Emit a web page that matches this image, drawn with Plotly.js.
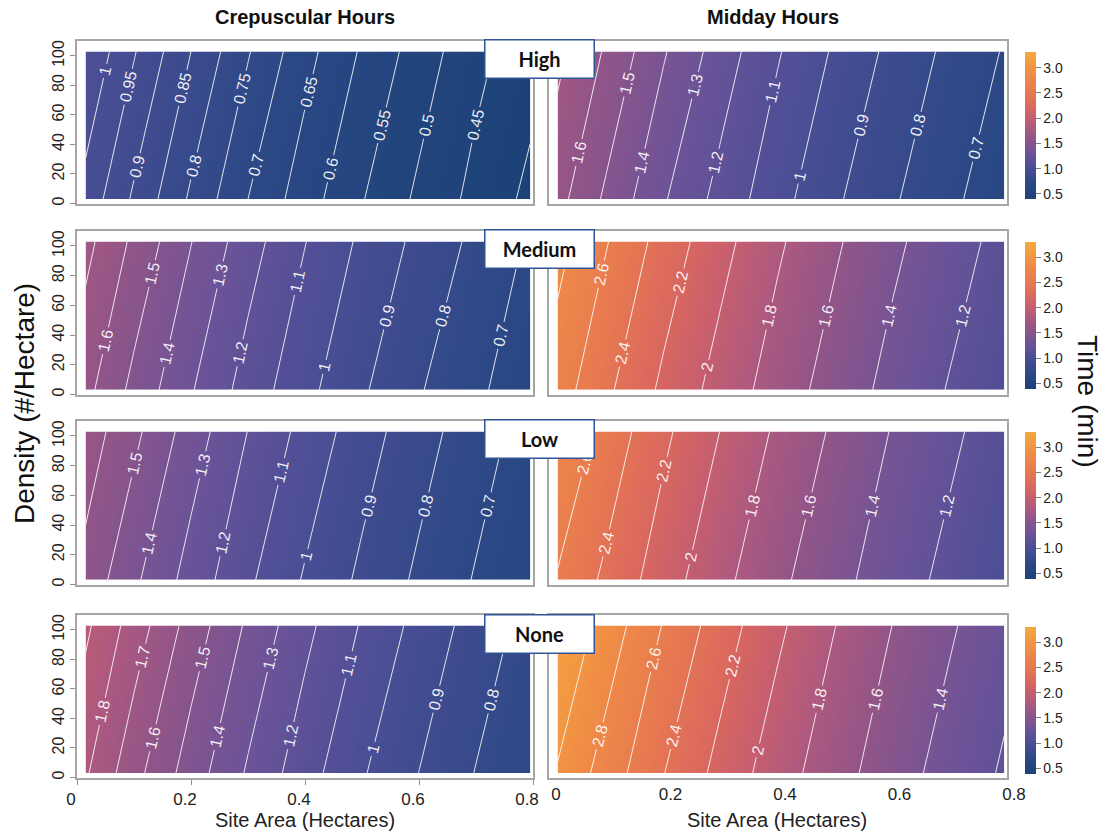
<!DOCTYPE html>
<html>
<head>
<meta charset="utf-8">
<script src="https://cdn.plot.ly/plotly-3.0.1.min.js"></script>
<style>
  html, body { margin: 0; padding: 0; background: #ffffff; }
  #chart { width: 1109px; height: 836px; }
</style>
</head>
<body>
<div id="chart"></div>
<script>
// ---------------- data ----------------
// grid: site area (hectares) x density (#/hectare)
const siteArea = [0.015, 0.1, 0.2, 0.3, 0.4, 0.5, 0.6, 0.7, 0.795];
const density = [3, 103];

// Time (min) at density = 3 (first array) and density = 103 (second array)
// Crepuscular hours
const crepHighD3   = [0.983, 0.892, 0.792, 0.700, 0.623, 0.553, 0.490, 0.435, 0.388];
const crepHighD103 = [1.045, 0.954, 0.850, 0.754, 0.667, 0.594, 0.527, 0.464, 0.420];
const crepMedD3    = [1.630, 1.472, 1.308, 1.158, 1.029, 0.913, 0.808, 0.719, 0.637];
const crepMedD103  = [1.730, 1.579, 1.403, 1.243, 1.103, 0.981, 0.874, 0.776, 0.687];
const crepLowD3    = [1.568, 1.419, 1.260, 1.117, 0.990, 0.880, 0.782, 0.692, 0.616];
const crepLowD103  = [1.655, 1.525, 1.352, 1.198, 1.067, 0.945, 0.840, 0.745, 0.661];
const crepNoneD3   = [1.813, 1.634, 1.452, 1.288, 1.142, 1.010, 0.899, 0.796, 0.706];
const crepNoneD103 = [1.920, 1.755, 1.559, 1.383, 1.227, 1.091, 0.967, 0.859, 0.764];
// Midday hours
const midHighD3    = [1.634, 1.482, 1.310, 1.166, 1.035, 0.915, 0.812, 0.721, 0.639];
const midHighD103  = [1.725, 1.587, 1.410, 1.252, 1.108, 0.986, 0.873, 0.776, 0.693];
const midMedD3     = [2.696, 2.439, 2.159, 1.922, 1.706, 1.513, 1.340, 1.187, 1.054];
const midMedD103   = [2.866, 2.612, 2.321, 2.063, 1.828, 1.626, 1.439, 1.282, 1.140];
const midLowD3     = [2.585, 2.358, 2.093, 1.853, 1.643, 1.459, 1.297, 1.146, 1.015];
const midLowD103   = [2.790, 2.529, 2.241, 1.995, 1.766, 1.568, 1.389, 1.239, 1.097];
const midNoneD3    = [2.985, 2.712, 2.406, 2.136, 1.892, 1.679, 1.490, 1.323, 1.177];
const midNoneD103  = [3.190, 2.917, 2.588, 2.299, 2.038, 1.802, 1.598, 1.423, 1.269];

// contour level spacing per panel
const crepLevels = [
  {start: 0.40, end: 1.00, size: 0.05},
  {start: 0.60, end: 1.80, size: 0.1},
  {start: 0.60, end: 1.70, size: 0.1},
  {start: 0.70, end: 1.90, size: 0.1}
];
const midLevels = [
  {start: 0.60, end: 1.70, size: 0.1},
  {start: 1.20, end: 2.80, size: 0.2},
  {start: 1.20, end: 2.60, size: 0.2},
  {start: 1.20, end: 3.00, size: 0.2}
];

const rowLabels = ['High', 'Medium', 'Low', 'None'];
const columnTitles = ['Crepuscular Hours', 'Midday Hours'];
const yTicks = [0, 20, 40, 60, 80, 100];
const xTicks = [0, 0.2, 0.4, 0.6, 0.8];
const xTickText = ['0', '0.2', '0.4', '0.6', '0.8'];
const cbTicks = [0.5, 1.0, 1.5, 2.0, 2.5, 3.0];
const cbTickText = ['0.5', '1.0', '1.5', '2.0', '2.5', '3.0'];

// ---------------- styling / layout ----------------
const W = 1109, H = 836;
const colorscale = [
  [0.00, '#1c4277'],
  [0.10, '#2b4885'],
  [0.21, '#4a4e95'],
  [0.31, '#6c5398'],
  [0.41, '#915588'],
  [0.48, '#ac5980'],
  [0.55, '#c55e70'],
  [0.62, '#d86760'],
  [0.72, '#e77851'],
  [0.86, '#f08e45'],
  [1.00, '#f5aa3c']
];
const ZMIN = 0.40, ZMAX = 3.31;

const panels = [
  [[crepHighD3, crepHighD103], [midHighD3, midHighD103]],
  [[crepMedD3, crepMedD103],   [midMedD3, midMedD103]],
  [[crepLowD3, crepLowD103],   [midLowD3, midLowD103]],
  [[crepNoneD3, crepNoneD103], [midNoneD3, midNoneD103]]
];
const levels = [crepLevels, midLevels];

// pixel frames of panels
const colPx = [[77, 533], [549, 1007]];
const rowPx = [[41, 204], [231, 395], [421, 585], [615, 778]];
const cbCenterPx = [125.5, 315, 505, 700];
const boxCenterPx = [59, 248.5, 438.5, 633.5];
const tickShift = [-6, 7];

const font = 'Liberation Sans, Arial, sans-serif';
const data = [];
const layout = {
  width: W, height: H,
  margin: {l: 0, r: 0, t: 0, b: 0},
  paper_bgcolor: '#ffffff',
  plot_bgcolor: '#ffffff',
  showlegend: false,
  annotations: []
};

for (let r = 0; r < 4; r++) {
  for (let c = 0; c < 2; c++) {
    const idx = r * 2 + c + 1;
    const xa = 'x' + (idx === 1 ? '' : idx);
    const ya = 'y' + (idx === 1 ? '' : idx);
    const z = panels[r][c];
    const fill = {
      type: 'contour', x: siteArea, y: density, z: z,
      xaxis: xa, yaxis: ya,
      colorscale: colorscale, zauto: false, zmin: ZMIN, zmax: ZMAX,
      contours: {coloring: 'heatmap', showlines: false, start: levels[c][r].start, end: levels[c][r].end, size: levels[c][r].size},
      line: {width: 0},
      hoverinfo: 'skip',
      showscale: c === 1
    };
    if (c === 1) {
      fill.colorbar = {
        x: 1025 / W, xanchor: 'left', xpad: 0, ypad: 0,
        y: 1 - cbCenterPx[r] / H, yanchor: 'middle',
        len: 147, lenmode: 'pixels', thickness: 11,
        outlinewidth: 0,
        tickvals: cbTicks, ticktext: cbTickText,
        ticks: 'outside', ticklen: 5, tickcolor: '#7f7f7f', tickwidth: 1,
        tickfont: {family: font, size: 14, color: '#222222'}
      };
    }
    data.push(fill);
    data.push({
      type: 'contour', x: siteArea, y: density, z: z,
      xaxis: xa, yaxis: ya,
      showscale: false, hoverinfo: 'skip',
      contours: {
        coloring: 'none', showlines: true, showlabels: true,
        start: levels[c][r].start, end: levels[c][r].end, size: levels[c][r].size,
        labelfont: {family: font, size: 16, color: 'rgba(255,255,255,0.92)'}
      },
      line: {color: 'rgba(255,255,255,0.85)', width: 1, smoothing: 0}
    });

    const bottom = r === 3, left = c === 0;
    layout['xaxis' + (idx === 1 ? '' : idx)] = {
      domain: [colPx[c][0] / W, colPx[c][1] / W],
      anchor: ya,
      range: [0, 0.8],
      showline: true, mirror: true, linecolor: '#a6a6a6', linewidth: 2,
      showgrid: false, zeroline: false,
      tickvals: xTicks, ticktext: xTickText,
      ticks: bottom && left ? 'outside' : '', ticklen: 5, tickcolor: '#8c8c8c',
      showticklabels: bottom, ticklabelshift: tickShift[c],
      tickfont: {family: font, size: 17, color: '#222222'},
      fixedrange: true
    };
    layout['yaxis' + (idx === 1 ? '' : idx)] = {
      domain: [1 - rowPx[r][1] / H, 1 - rowPx[r][0] / H],
      anchor: xa,
      range: [-0.4, 110.1],
      showline: true, mirror: true, linecolor: '#a6a6a6', linewidth: 2,
      showgrid: false, zeroline: false,
      tickvals: yTicks,
      ticks: left ? 'outside' : '', ticklen: 5, tickcolor: '#8c8c8c',
      showticklabels: left, tickangle: -90,
      tickfont: {family: font, size: 16, color: '#222222'},
      fixedrange: true
    };
  }
  // row label box
  layout.annotations.push({
    xref: 'paper', yref: 'paper',
    x: 539.5 / W, y: 1 - boxCenterPx[r] / H,
    xanchor: 'center', yanchor: 'middle',
    text: '<b>' + rowLabels[r] + '</b>',
    showarrow: false,
    font: {family: 'Lato, Open Sans, sans-serif', size: 20, color: '#111111'},
    bgcolor: '#ffffff', bordercolor: '#2f5597', borderwidth: 1.5, borderpad: 2,
    width: 104, height: 33
  });
}

// column titles and x-axis titles
const colTitleX = [305, 773];
for (let c = 0; c < 2; c++) {
  layout.annotations.push({
    xref: 'paper', yref: 'paper', x: colTitleX[c] / W, y: 1 - 17 / H,
    xanchor: 'center', yanchor: 'middle', showarrow: false,
    text: '<b>' + columnTitles[c] + '</b>',
    font: {family: font, size: 20, color: '#111111'}
  });
  layout.annotations.push({
    xref: 'paper', yref: 'paper', x: (c === 0 ? 305 : 777) / W, y: 1 - 820 / H,
    xanchor: 'center', yanchor: 'middle', showarrow: false,
    text: 'Site Area (Hectares)',
    font: {family: font, size: 20, color: '#222222'}
  });
}
layout.annotations.push({
  xref: 'paper', yref: 'paper', x: 24 / W, y: 1 - 404 / H,
  xanchor: 'center', yanchor: 'middle', showarrow: false, textangle: -90,
  text: 'Density (#/Hectare)',
  font: {family: font, size: 28, color: '#111111'}
});
layout.annotations.push({
  xref: 'paper', yref: 'paper', x: 1088 / W, y: 1 - 401 / H,
  xanchor: 'center', yanchor: 'middle', showarrow: false, textangle: 90,
  text: 'Time (min)',
  font: {family: font, size: 28, color: '#111111'}
});

Plotly.newPlot('chart', data, layout, {displayModeBar: false, responsive: false});
</script>
</body>
</html>
